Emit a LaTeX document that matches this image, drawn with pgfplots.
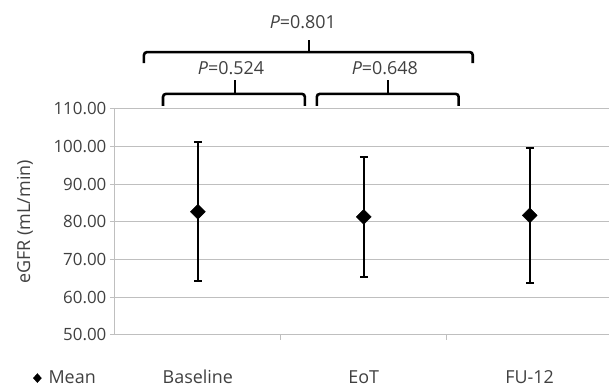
\documentclass[border=0pt]{standalone}
\usepackage{fontspec}
\setmainfont{Open Sans}
\usepackage{pgfplots}
\pgfplotsset{compat=1.18}
\definecolor{txt}{HTML}{404040}
\definecolor{gridc}{HTML}{BFBFBF}
\begin{document}
\begin{tikzpicture}
\begin{axis}[
 name=ax,
 scale only axis, width=494bp, height=226bp,
 xmin=-0.5, xmax=2.475, ymin=50, ymax=110,
 clip=false,
 axis x line=bottom, axis y line=left,
 axis line style={gridc, line width=1bp, -},
 xtick={0,1,2}, xticklabels={Baseline,EoT,FU-12},
 major x tick style={draw=none},
 minor xtick={0.5,1.5},
 minor tick length=5bp,
 ytick={50,60,70,80,90,100,110},
 tick align=outside, major tick length=5bp,
 tick style={gridc, line width=1bp},
 ymajorgrids, grid style={gridc, line width=1bp},
 /pgf/number format/assume math mode=true,
 yticklabel style={/pgf/number format/fixed, /pgf/number format/fixed zerofill, /pgf/number format/precision=2},
 tick label style={font=\fontsize{17}{20}\selectfont, text=txt},
 xticklabel style={font=\fontsize{18}{21}\selectfont, yshift=-27bp},
 ylabel={eGFR (mL/min)},
 ylabel style={at={(axis description cs:-0.182,0.5)}, anchor=center, font=\fontsize{18}{21}\selectfont, text=txt},
 legend style={at={(-0.172,-0.192)}, anchor=west, draw=none, fill=none, font=\fontsize{18}{21}\selectfont, text=txt},
 legend image code/.code={\fill[black] (0bp,0bp) -- (4bp,4.5bp) -- (8bp,0bp) -- (4bp,-4.5bp) -- cycle; \path (13bp,0bp);},
]
\addplot[only marks, mark=square*, mark size=5.3bp, mark options={rotate=45, fill=black, draw=black},
 error bars/.cd, y dir=both, y explicit,
 error bar style={line width=2bp, black},
 error mark options={rotate=90, mark size=4bp, line width=2bp, black}]
 table[x=x, y=y, y error=e]{
x y e
0 82.7 18.5
1 81.3 15.9
2 81.7 17.9
};
\addlegendentry{Mean}
% brackets
\draw[line width=2.6bp, black, rounded corners=3bp] (axis cs:-0.325,122.2) -- (axis cs:-0.325,125.1) -- (axis cs:1.657,125.1) -- (axis cs:1.657,122.2);
\draw[line width=2.6bp, black] (axis cs:0.669,125.1) -- (axis cs:0.669,128.3);
\draw[line width=2.6bp, black, rounded corners=3bp] (axis cs:-0.21,110.8) -- (axis cs:-0.21,114.0) -- (axis cs:0.645,114.0) -- (axis cs:0.645,110.8);
\draw[line width=2.6bp, black] (axis cs:0.223,114.0) -- (axis cs:0.223,117.7);
\draw[line width=2.6bp, black, rounded corners=3bp] (axis cs:0.717,110.8) -- (axis cs:0.717,114.0) -- (axis cs:1.572,114.0) -- (axis cs:1.572,110.8);
\draw[line width=2.6bp, black] (axis cs:1.145,114.0) -- (axis cs:1.145,117.7);
\node[text=txt, font=\fontsize{18}{21}\selectfont] at (axis cs:0.633,133.1) {\textit{P}=0.801};
\node[text=txt, font=\fontsize{18}{21}\selectfont] at (axis cs:0.2,120.9) {\textit{P}=0.524};
\node[text=txt, font=\fontsize{18}{21}\selectfont] at (axis cs:1.127,120.9) {\textit{P}=0.648};
\end{axis}
\path ([shift={(-115bp,-55bp)}]ax.south west) rectangle ++(609bp,390bp);
\end{tikzpicture}
\end{document}
